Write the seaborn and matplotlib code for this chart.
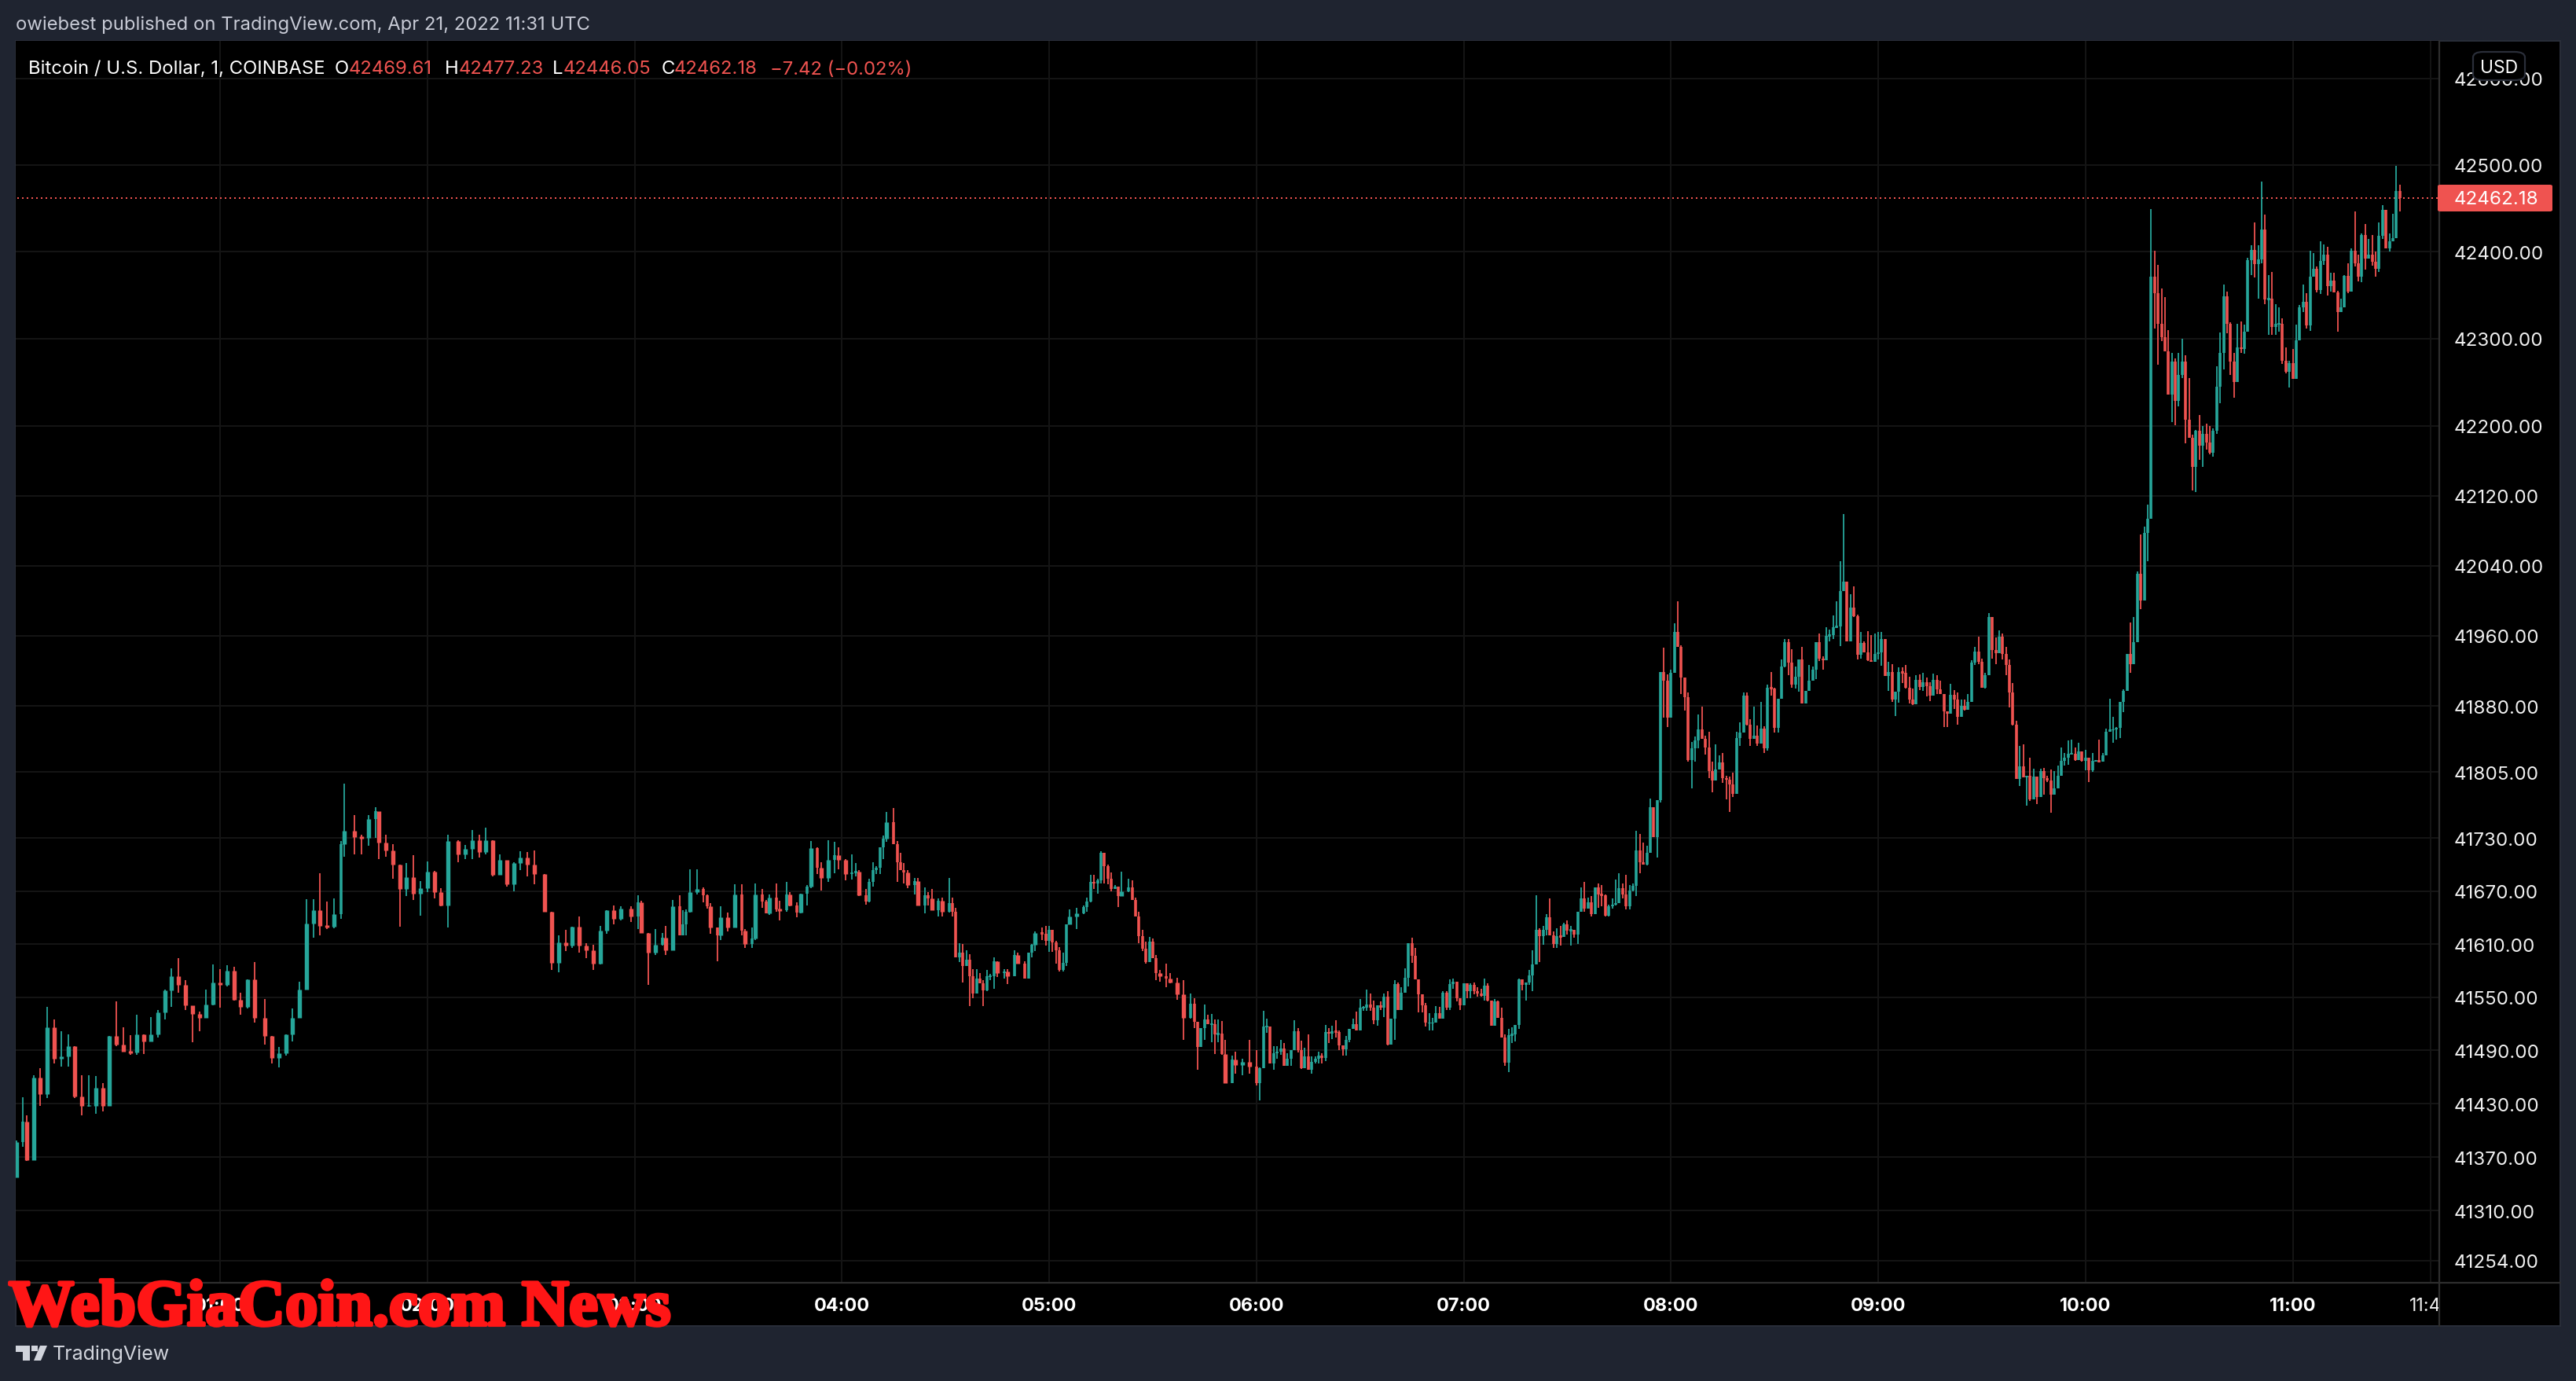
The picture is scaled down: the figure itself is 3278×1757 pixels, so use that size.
import numpy as np
import pandas as pd
import matplotlib.pyplot as plt
import matplotlib.patheffects as pe
import seaborn as sns
from matplotlib.patches import Rectangle, FancyBboxPatch, Polygon
from matplotlib.transforms import blended_transform_factory

W, H = 3278, 1758

# minutes after 00:00 for the first part; from minute 361 every minute is read
early_minutes = [1,3,4,6,8,10,12,14,16,18,20,22,24,26,28,30,32,34,36,38,40,42,44,46,48,50,52,54,56,58,
    60,62,64,66,68,70,73,75,77,79,81,83,85,87,89,91,93,95,96,99,101,103,105,106,108,110,112,114,116,118,
    120,122,124,126,129,131,133,135,137,139,141,143,145,147,149,151,154,156,158,160,162,164,166,168,170,172,174,176,
    179,181,182,184,186,188,189,191,193,194,195,196,198,200,201,202,204,205,207,209,211,212,214,215,217,218,219,
    221,222,224,225,227,228,230,231,233,234,236,238,239,241,243,244,245,247,248,249,250,251,252,253,255,256,257,258,259,
    261,262,264,265,266,268,269,271,272,273,274,275,276,277,278,279,280,281,282,283,284,285,287,288,290,291,293,294,295,296,298,299,300,
    301,302,303,304,305,306,308,310,311,312,313,314,315,316,317,318,319,320,321,323,324,325,326,327,328,329,330,331,332,334,335,337,339,
    341,342,343,344,345,346,347,348,349,350,351,353,354,356,358,360]

closes_early = [41387,41410,41367,41459,41441,41516,41481,41483,41495,41438,41428,41428,41448,41428,41506,41497,41489,41488,41508,41500,
    41508,41533,41558,41574,41564,41541,41531,41527,41542,41567,41564,41580,41547,41539,41570,41527,41506,41482,41487,41508,41527,41559,
    41633,41648,41631,41630,41644,41723,41738,41731,41730,41752,41761,41725,41716,41700,41672,41686,41667,41673,41692,41669,41654,41727,
    41712,41718,41728,41714,41728,41688,41705,41678,41702,41708,41700,41689,41647,41589,41612,41608,41630,41608,41603,41588,41625,41648,41639,41650,
    41641,41657,41623,41600,41609,41617,41603,41653,41620,41632,41647,41669,41672,41665,41653,41629,41620,41640,41629,41666,41625,41610,41616,41666,
    41658,41645,41663,41649,41648,41666,41654,41646,41667,41675,41719,41696,41685,41705,41711,41705,41689,41691,41692,41665,41658,41680,41694,41696,
    41720,41729,41748,41723,41703,41694,41691,41677,41681,41654,41665,41662,41648,41659,41647,41656,41647,41595,41600,41585,41592,41574,41554,41571,
    41566,41558,41574,41574,41591,41577,41579,41574,41598,41588,41571,41600,41609,41623,41622,41614,41626,41612,41603,41581,41589,41632,41641,41645,
    41652,41658,41680,41679,41682,41713,41698,41684,41672,41675,41664,41670,41674,41660,41641,41619,41605,41590,41613,41594,41577,41574,41571,41567,
    41553,41527,41543,41522,41494,41515,41525,41520,41520,41508,41509,41486,41453,41480,41474,41477,41472,41453]
highs_early = [41389,41437,41417,41462,41470,41539,41525,41512,41508,41495,41462,41462,41461,41453,41506,41545,41516,41507,41530,41508,
    41528,41536,41559,41583,41594,41569,41533,41534,41559,41587,41582,41586,41584,41555,41570,41590,41548,41506,41494,41508,41537,41568,
    41661,41661,41690,41658,41662,41727,41792,41756,41734,41756,41765,41753,41734,41723,41700,41702,41711,41681,41704,41693,41673,41734,
    41728,41722,41739,41734,41742,41728,41712,41703,41703,41715,41714,41716,41689,41647,41620,41626,41630,41641,41611,41609,41631,41648,41654,41653,
    41653,41665,41659,41623,41627,41623,41631,41660,41665,41648,41649,41695,41695,41674,41666,41656,41628,41653,41646,41678,41678,41627,41629,41679,
    41672,41660,41666,41679,41659,41680,41669,41657,41667,41677,41727,41720,41703,41728,41726,41720,41706,41712,41702,41694,41672,41684,41703,41698,
    41720,41733,41760,41764,41727,41713,41702,41694,41685,41685,41674,41669,41672,41662,41663,41685,41663,41651,41611,41610,41603,41599,41582,41582,
    41577,41569,41581,41576,41595,41591,41582,41582,41603,41600,41591,41600,41610,41624,41629,41631,41631,41625,41614,41607,41600,41632,41649,41651,
    41654,41663,41688,41688,41684,41715,41711,41700,41691,41677,41672,41692,41684,41682,41663,41647,41626,41613,41618,41616,41598,41581,41588,41577,
    41572,41569,41554,41549,41522,41515,41542,41530,41531,41525,41525,41523,41502,41484,41489,41481,41502,41490]
lows_early = [41347,41382,41366,41367,41428,41436,41475,41472,41472,41436,41417,41427,41419,41421,41428,41495,41489,41485,41485,41486,
    41500,41505,41525,41539,41555,41536,41499,41512,41529,41541,41538,41562,41546,41530,41537,41521,41497,41475,41471,41484,41500,41544,
    41559,41617,41620,41627,41628,41639,41709,41712,41712,41721,41730,41706,41709,41684,41630,41664,41660,41642,41669,41662,41653,41629,
    41703,41706,41706,41708,41712,41687,41693,41675,41670,41694,41687,41678,41647,41581,41578,41602,41606,41600,41594,41581,41587,41622,41632,41637,
    41635,41627,41623,41564,41598,41608,41598,41604,41620,41620,41620,41646,41666,41657,41650,41622,41591,41615,41624,41629,41620,41606,41606,41615,
    41651,41645,41643,41647,41637,41647,41653,41640,41645,41654,41673,41689,41671,41680,41690,41695,41682,41683,41687,41664,41655,41657,41675,41689,
    41689,41706,41726,41723,41680,41694,41679,41673,41666,41654,41645,41654,41648,41641,41641,41646,41641,41595,41590,41567,41585,41540,41549,41554,
    41566,41540,41557,41569,41560,41573,41571,41565,41575,41588,41571,41571,41595,41602,41615,41608,41601,41601,41588,41579,41579,41585,41632,41627,
    41644,41647,41657,41672,41667,41679,41679,41678,41670,41672,41652,41664,41669,41660,41641,41611,41602,41588,41590,41594,41569,41568,41561,41566,
    41547,41502,41526,41515,41468,41494,41502,41520,41499,41486,41499,41485,41453,41453,41464,41462,41464,41451]

# one minute candles from minute 361 to minute 476
closes_mid = [41470,41517,41517,41475,41487,41489,41492,41473,41481,41490,41512,41490,41470,41483,41468,41477,41481,41484,41482,41511,41509,
    41512,41511,41496,41491,41502,41514,41520,41513,41538,41538,41542,41538,41524,41541,41538,41551,41497,41526,41565,41536,
    41555,41572,41611,41597,41570,41553,41541,41521,41521,41521,41532,41526,41555,41538,41565,41568,41549,41541,41566,41557,
    41564,41557,41554,41552,41563,41546,41518,41545,41527,41505,41476,41507,41508,41519,41570,41564,41567,41575,41587,41626,
    41619,41626,41640,41620,41610,41619,41618,41632,41625,41626,41621,41647,41662,41650,41657,41644,41674,41666,41665,41642,
    41653,41655,41656,41673,41666,41653,41671,41676,41716,41703,41700,41713,41765,41731,41773]
highs_mid = [41471,41535,41526,41517,41495,41495,41502,41498,41487,41490,41524,41515,41501,41493,41508,41483,41483,41489,41487,41519,41515,
    41518,41524,41513,41496,41506,41514,41526,41534,41548,41540,41559,41554,41546,41541,41545,41554,41557,41526,41569,41567,
    41561,41583,41611,41617,41606,41570,41553,41544,41532,41527,41540,41539,41557,41557,41570,41571,41568,41549,41566,41566,
    41566,41567,41561,41560,41571,41566,41546,41548,41546,41538,41508,41514,41516,41519,41571,41567,41567,41581,41603,41665,
    41628,41631,41644,41662,41624,41628,41631,41634,41637,41631,41625,41647,41674,41680,41663,41664,41674,41679,41677,41666,
    41655,41662,41683,41690,41679,41688,41677,41679,41738,41735,41725,41721,41775,41765,41773]
lows_mid = [41434,41470,41510,41475,41468,41481,41485,41473,41478,41473,41490,41488,41469,41470,41468,41464,41475,41475,41475,41478,41498,
    41503,41505,41490,41484,41484,41499,41514,41513,41513,41535,41535,41535,41520,41518,41536,41528,41496,41497,41502,41536,
    41536,41555,41562,41589,41570,41533,41533,41517,41513,41513,41521,41526,41526,41536,41536,41560,41545,41536,41541,41549,
    41549,41553,41551,41551,41546,41545,41518,41518,41527,41505,41473,41466,41498,41500,41514,41558,41546,41564,41557,41587,
    41590,41609,41620,41620,41606,41606,41608,41620,41621,41608,41617,41610,41647,41647,41650,41641,41650,41651,41653,41641,
    41641,41650,41654,41659,41662,41649,41649,41670,41664,41690,41700,41699,41713,41731,41708]

# one minute candles from minute 477 to minute 618
closes_late = [41919,41909,41867,41918,41964,41947,41912,41890,41819,41832,41841,41853,41843,41833,41806,41795,41808,41816,41798,41796,
    41791,41780,41844,41850,41892,41859,41843,41846,41837,41854,41832,41901,41900,41855,41888,41925,41953,41929,41904,41913,
    41933,41883,41897,41909,41921,41953,41934,41932,41960,41961,41970,41971,42011,42022,41954,41992,41982,41938,41952,41941,
    41932,41930,41939,41941,41956,41914,41919,41887,41896,41919,41918,41901,41887,41882,41910,41902,41907,41903,41892,41910,
    41899,41894,41874,41871,41893,41887,41868,41880,41876,41885,41929,41942,41930,41901,41915,41981,41944,41940,41959,41939,
    41927,41895,41859,41797,41811,41799,41801,41774,41800,41777,41806,41798,41795,41779,41786,41801,41818,41821,41826,41826,
    41819,41828,41818,41821,41807,41818,41818,41817,41824,41851,41853,41853,41855,41885,41897,41939,41928,41953,42031,42000,42077,42094]
highs_late = [41919,41946,41916,41921,41974,41999,41949,41912,41895,41839,41845,41870,41879,41846,41851,41817,41836,41824,41827,41801,
    41800,41804,41851,41861,41895,41895,41865,41879,41858,41885,41857,41904,41919,41901,41888,41933,41956,41956,41945,41925,
    41933,41947,41897,41927,41925,41953,41963,41937,41970,41967,41983,41999,42045,42099,42022,42007,42016,41984,41964,41954,
    41965,41961,41963,41964,41964,41956,41930,41928,41896,41924,41924,41927,41913,41900,41915,41916,41918,41912,41907,41917,
    41915,41909,41894,41874,41905,41898,41895,41887,41887,41894,41932,41947,41959,41934,41918,41986,41979,41958,41966,41963,
    41947,41933,41906,41863,41835,41836,41801,41821,41809,41800,41809,41810,41801,41808,41806,41812,41833,41827,41841,41842,
    41833,41838,41828,41830,41821,41827,41819,41842,41827,41854,41888,41868,41856,41885,41899,41939,41975,41981,42033,42076,42085,42110]
lows_late = [41770,41867,41856,41867,41918,41947,41894,41875,41817,41786,41817,41832,41843,41825,41798,41782,41795,41808,41793,41774,
    41760,41777,41780,41835,41850,41858,41835,41843,41835,41837,41827,41829,41892,41850,41850,41888,41924,41915,41901,41900,
    41896,41883,41883,41897,41909,41911,41931,41921,41932,41954,41956,41970,41948,42011,41954,41954,41981,41933,41934,41941,
    41931,41930,41930,41933,41926,41914,41897,41885,41869,41884,41906,41900,41883,41881,41882,41898,41897,41891,41886,41892,
    41894,41894,41856,41856,41871,41877,41859,41868,41875,41876,41885,41927,41928,41901,41900,41915,41934,41928,41940,41933,
    41915,41878,41858,41797,41789,41799,41767,41772,41774,41769,41777,41779,41794,41759,41779,41786,41801,41812,41813,41826,
    41818,41819,41817,41807,41794,41805,41817,41817,41817,41824,41851,41838,41842,41844,41873,41897,41918,41928,41953,41990,42000,42045]

# one minute candles from minute 619 to minute 690
closes_end = [42371,42352,42317,42302,42285,42236,42274,42229,42258,42274,42207,42186,42153,42194,42177,42191,42181,42169,42194,42245,
    42284,42349,42317,42274,42250,42290,42288,42308,42390,42402,42386,42391,42426,42345,42346,42313,42317,42317,42275,42262,
    42272,42254,42298,42336,42342,42315,42371,42380,42356,42389,42397,42360,42367,42353,42331,42336,42372,42354,42401,42387,
    42371,42419,42392,42397,42388,42380,42418,42448,42404,42412,42416,42470]
highs_end = [42449,42401,42385,42358,42348,42310,42284,42277,42284,42300,42281,42255,42190,42195,42212,42200,42202,42200,42197,42268,
    42307,42362,42354,42319,42284,42317,42320,42316,42393,42407,42434,42407,42481,42443,42373,42377,42340,42336,42323,42290,
    42275,42288,42316,42339,42362,42352,42401,42398,42383,42412,42408,42406,42376,42376,42355,42346,42373,42387,42404,42446,
    42397,42421,42432,42415,42419,42400,42434,42454,42448,42421,42444,42499]
lows_end = [42094,42312,42270,42297,42285,42236,42204,42201,42222,42255,42180,42186,42126,42124,42161,42153,42173,42167,42165,42191,
    42226,42265,42306,42258,42232,42250,42284,42283,42308,42373,42370,42346,42387,42340,42304,42304,42304,42308,42271,42260,
    42244,42254,42254,42298,42331,42312,42309,42376,42353,42351,42385,42350,42354,42353,42308,42331,42338,42352,42354,42383,
    42366,42365,42379,42392,42384,42371,42377,42415,42404,42400,42412,42416]

# the last candle, from the legend
last_open, last_high, last_low, last_close = 42469.61, 42477.23, 42446.05, 42462.18

price_ticks = [42600,42500,42400,42300,42200,42120,42040,41960,41880,41805,41730,41670,41610,41550,41490,41430,41370,41310,41254]
hour_ticks = [60,120,180,240,300,360,420,480,540,600,660]
hour_labels = ['01:00','02:00','03:00','04:00','05:00','06:00','07:00','08:00','09:00','10:00','11:00']
GREEN, RED = '#26a69a', '#ef5350'
OUTER = '#1f2430'


def fx(x):
    return x / W


def fy(y):
    return 1 - y / H


def draw_ranges(ax, df, low_col, high_col, lw):
    # long format: two rows per candle, one line per minute
    long = df.melt(id_vars=['minute', 'direction'], value_vars=[low_col, high_col], value_name='price')
    sns.lineplot(data=long, x='minute', y='price', units='minute', hue='direction', estimator=None,
                 errorbar=None, sort=False, palette={'up': GREEN, 'down': RED}, lw=lw, legend=False,
                 solid_capstyle='butt', ax=ax)


minutes = early_minutes + list(range(361, 692))
closes = closes_early + closes_mid + closes_late + closes_end + [last_close]
highs = highs_early + highs_mid + highs_late + highs_end + [last_high]
lows = lows_early + lows_mid + lows_late + lows_end + [last_low]

df = pd.DataFrame({'minute': minutes, 'close': closes, 'high': highs, 'low': lows})
df['open'] = df['close'].shift(1).fillna(df['low'])
df.loc[df.index[-1], 'open'] = last_open
df['direction'] = np.where(df['close'] >= df['open'], 'up', 'down')
df['top'] = df[['open', 'close']].max(axis=1)
df['bottom'] = df[['open', 'close']].min(axis=1)
thin = df['top'] - df['bottom'] < 1.5
df.loc[thin, 'top'] += 0.8
df.loc[thin, 'bottom'] -= 0.8
df['gap'] = df['minute'].diff().shift(-1).fillna(1)

sns.set_theme(style='dark', rc={'axes.facecolor': 'black', 'figure.facecolor': OUTER})
plt.rcParams['font.family'] = ['Inter', 'DejaVu Sans']

fig = plt.figure(figsize=(W / 100, H / 100), dpi=100)

# black panels behind the chart
fig.add_artist(Rectangle((fx(20), fy(1688)), (3258 - 20) / W, (1688 - 53) / H, transform=fig.transFigure,
                         facecolor='black', edgecolor='#2a2e39', lw=1.4, zorder=-1))

ax = fig.add_axes([fx(20), fy(1632.5), (3103.5 - 20) / W, (1632.5 - 53) / H], zorder=1)
ax.set_yscale('log')
ax.set_facecolor('black')

ax.hlines(price_ticks, 0, 800, color='#151515', lw=1.4, zorder=0)
ax.vlines(hour_ticks + [700], 41000, 43000, color='#151515', lw=1.4, zorder=0)

sns.lineplot(x=[0, 800], y=[last_close, last_close], color=RED, lw=1.44, errorbar=None,
             linestyle=(0, (1, 2)), dash_capstyle='butt', ax=ax)
draw_ranges(ax, df, 'low', 'high', 1.3)
draw_ranges(ax, df[df['gap'] > 1], 'bottom', 'top', 3.9)
draw_ranges(ax, df[df['gap'] <= 1], 'bottom', 'top', 2.6)

ax.set_xlim(0.855, 702.3)
ax.set_ylim(41229.5, 42643.5)
ax.set_xlabel('')
ax.set_ylabel('')
ax.minorticks_off()
ax.set_xticks([])
ax.yaxis.tick_right()
ax.set_yticks(price_ticks)
ax.set_yticklabels([f'{p:.2f}' for p in price_ticks], color='#f0f0f0', fontsize=17.4)
ax.tick_params(axis='y', which='both', length=0, pad=13.5)
sns.despine(ax=ax, left=True, right=True, top=True, bottom=True)

# time axis, clipped at the price axis like the original
ax_time = fig.add_axes([fx(20), fy(1688), (3103.5 - 20) / W, (1688 - 1632.5) / H], zorder=1)
ax_time.set_xlim(0.855, 702.3)
ax_time.axis('off')
trans = blended_transform_factory(ax_time.transData, ax_time.transAxes)
for m, lab in zip(hour_ticks, hour_labels):
    ax_time.text(m, 0.46, lab, transform=trans, ha='center', va='center', color='white',
                 fontsize=16.8, fontweight='bold', clip_on=True)
ax_time.text(700, 0.46, '11:40', transform=trans, ha='center', va='center', color='#f0f0f0',
             fontsize=16.8, clip_on=True)

# axis lines
fig.add_artist(plt.Line2D([fx(3103.5)] * 2, [fy(53), fy(1688)], color='#2e2e2e', lw=1.6, zorder=2))
fig.add_artist(plt.Line2D([fx(20), fx(3258)], [fy(1632.5)] * 2, color='#2e2e2e', lw=1.6, zorder=2))

# price tag and USD box
fig.add_artist(FancyBboxPatch((fx(3102), fy(270)), 146 / W, 34 / H, transform=fig.transFigure,
                              boxstyle='round,pad=0,rounding_size=0.001', facecolor=RED, edgecolor='none', zorder=4))
fig.text(fx(3122.7), fy(254.5), f'{last_close:.2f}', color='white', fontsize=17.4, ha='left', va='center', zorder=5)
fig.add_artist(FancyBboxPatch((fx(3147), fy(103)), 66 / W, 36 / H, transform=fig.transFigure,
                              boxstyle='round,pad=0,rounding_size=0.004', facecolor='black', edgecolor='#2a2e39',
                              lw=1.6, zorder=4))
fig.text(fx(3180), fy(87), 'USD', color='white', fontsize=16.5, ha='center', va='center', zorder=5)

# header and legend
fig.text(fx(20), fy(32), 'owiebest published on TradingView.com, Apr 21, 2022 11:31 UTC', color='#c8cbd6',
         fontsize=17.15, ha='left', va='center')
legend_parts = [(36, 'Bitcoin / U.S. Dollar, 1, COINBASE', 'white'), (426, 'O', 'white'), (444, '42469.61', RED),
                (566, 'H', 'white'), (584, '42477.23', RED), (703, 'L', 'white'), (717, '42446.05', RED),
                (842, 'C', 'white'), (858, '42462.18', RED), (980, '\u22127.42 (\u22120.02%)', RED)]
for x, s, c in legend_parts:
    fig.text(fx(x), fy(88.5), s, color=c, fontsize=17.2, ha='left', va='center', zorder=5)

# TradingView logo
logo = '#d1d4dc'
fig.add_artist(Polygon([(fx(20), fy(1713)), (fx(38), fy(1713)), (fx(38), fy(1732)), (fx(29), fy(1732)),
                        (fx(29), fy(1721)), (fx(20), fy(1721))], transform=fig.transFigure, facecolor=logo,
                       edgecolor='none', zorder=3))
fig.add_artist(Polygon([(fx(51), fy(1713)), (fx(60), fy(1713)), (fx(52), fy(1732)), (fx(43), fy(1732))],
                       transform=fig.transFigure, facecolor=logo, edgecolor='none', zorder=3))
fig.add_artist(Polygon([(fx(40), fy(1713)), (fx(48), fy(1713)), (fx(48), fy(1720)), (fx(40), fy(1720))],
                       transform=fig.transFigure, facecolor=logo, edgecolor='none', zorder=3))
fig.text(fx(67), fy(1723), 'TradingView', color=logo, fontsize=18, ha='left', va='center')

# red watermark across the bottom left
mark = fig.text(fx(11), fy(1687), 'WebGiaCoin.com News', color='#ff1616', fontsize=60, fontweight='bold',
                family=['Liberation Serif', 'DejaVu Serif'], ha='left', va='baseline', zorder=10)
mark.set_path_effects([pe.withStroke(linewidth=3, foreground='#ff1616')])

fig.savefig('out.png', dpi=100, facecolor=OUTER)
plt.close(fig)
